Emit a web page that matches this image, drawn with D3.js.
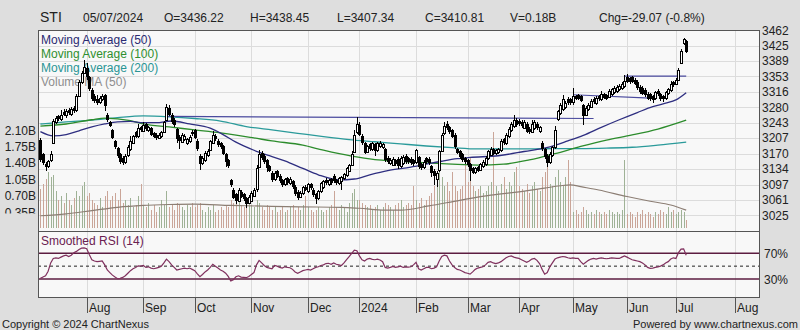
<!DOCTYPE html>
<html>
<head>
<meta charset="utf-8">
<script src="https://cdn.jsdelivr.net/npm/d3@7/dist/d3.min.js"></script>
<style>
  html, body { margin: 0; padding: 0; background: #dedede; }
  svg { display: block; font-family: "Liberation Sans", Arial, sans-serif; }
</style>
</head>
<body>
<svg id="chart" width="800" height="330"></svg>
<script>
// ---- STI daily prices, 6 Jul 2023 .. 5 Jul 2024 (one entry per trading day) ----
const symbol = "STI";
const lastDate = "05/07/2024";

const monthLabels = ["Aug", "Sep", "Oct", "Nov", "Dec", "2024", "Feb", "Mar", "Apr", "May", "Jun", "Jul", "Aug"];
const monthStart  = [18, 40, 60, 82, 104, 124, 146, 166, 186, 207, 228, 247, 270];

const priceTicks  = [3025, 3061, 3097, 3134, 3170, 3207, 3243, 3280, 3316, 3353, 3389, 3425, 3462];
const volumeTicks = [0.35, 0.70, 1.05, 1.40, 1.75, 2.10];
const rsiBands    = [70, 30];
const rsiMid      = 50;

const opens = [
  3203,3168,3146,3140,3155,3196,3245,3258,3252,3268,
  3260,3274,3263,3278,3272,3308,3338,3362,3372,3350,
  3320,3305,3300,3292,3298,3308,3262,3245,3225,3200,
  3183,3168,3160,3150,3165,3180,3195,3220,3212,3232,
  3225,3240,3225,3230,3218,3215,3208,3210,3222,3250,
  3278,3262,3250,3228,3210,3198,3205,3195,3200,3222,
  3226,3200,3165,3148,3155,3165,3178,3195,3212,3200,
  3195,3188,3168,3155,3108,3085,3075,3060,3080,3075,
  3065,3055,3060,3072,3085,3140,3172,3165,3155,3140,
  3125,3110,3128,3118,3108,3098,3112,3100,3105,3092,
  3080,3068,3075,3092,3082,3098,3085,3075,3065,3080,
  3090,3108,3098,3110,3118,3108,3100,3105,3112,3118,
  3130,3145,3175,3220,3238,3212,3195,3175,3192,3180,
  3192,3178,3188,3185,3180,3160,3148,3145,3155,3158,
  3140,3148,3165,3160,3158,3155,3150,3162,3145,3138,
  3160,3158,3140,3130,3110,3130,3178,3218,3240,3232,
  3225,3215,3180,3175,3168,3160,3155,3145,3135,3125,
  3138,3132,3140,3145,3158,3168,3180,3170,3172,3178,
  3205,3195,3212,3225,3235,3250,3248,3245,3232,3240,
  3228,3222,3230,3240,3222,3195,3180,3165,3150,3165,
  3185,3250,3265,3275,3280,3300,3298,3290,3305,3308,
  3305,3285,3262,3275,3282,3300,3290,3305,3298,3310,
  3308,3305,3310,3315,3318,3322,3325,3330,3352,3348,
  3350,3345,3340,3328,3325,3320,3312,3310,3305,3300,
  3318,3310,3305,3300,3312,3320,3338,3335,3345,3385,
  3430,3436.22
];
const highs = [
  3208,3172,3150,3156,3175,3252,3260,3262,3272,3275,
  3276,3278,3280,3282,3310,3345,3366,3392,3385,3353,
  3325,3310,3308,3306,3310,3310,3265,3248,3228,3203,
  3186,3172,3165,3168,3190,3212,3215,3224,3240,3236,
  3244,3243,3236,3234,3222,3218,3218,3224,3248,3287,
  3284,3266,3254,3231,3214,3218,3216,3208,3213,3226,
  3229,3205,3168,3164,3176,3180,3203,3223,3216,3204,
  3198,3191,3171,3158,3110,3088,3078,3089,3084,3078,
  3068,3072,3082,3088,3142,3178,3176,3168,3158,3143,
  3128,3128,3131,3121,3111,3113,3115,3114,3108,3095,
  3083,3081,3094,3096,3101,3101,3088,3078,3085,3103,
  3108,3112,3111,3113,3121,3111,3115,3118,3125,3138,
  3146,3175,3225,3256,3245,3216,3198,3191,3196,3198,
  3195,3198,3200,3196,3184,3164,3159,3162,3158,3161,
  3164,3166,3168,3163,3161,3158,3182,3165,3148,3154,
  3163,3161,3143,3133,3128,3178,3218,3245,3247,3236,
  3228,3218,3184,3178,3171,3163,3158,3148,3138,3139,
  3141,3149,3154,3164,3179,3186,3184,3182,3184,3204,
  3208,3219,3232,3244,3261,3254,3252,3249,3249,3244,
  3232,3250,3249,3244,3236,3199,3184,3168,3174,3189,
  3235,3274,3289,3308,3294,3304,3302,3325,3309,3312,
  3309,3288,3282,3289,3299,3304,3306,3309,3318,3314,
  3312,3322,3326,3329,3332,3334,3339,3356,3357,3352,
  3354,3349,3344,3332,3329,3324,3316,3314,3309,3319,
  3322,3314,3309,3319,3326,3342,3342,3349,3372,3418,
  3442,3438.45
];
const lows = [
  3150,3142,3130,3136,3150,3192,3240,3246,3248,3258,
  3255,3262,3260,3266,3268,3304,3334,3358,3345,3318,
  3295,3290,3285,3288,3294,3270,3245,3232,3204,3180,
  3160,3146,3143,3146,3162,3176,3192,3206,3208,3220,
  3222,3224,3220,3212,3206,3203,3204,3207,3220,3246,
  3258,3241,3234,3195,3180,3194,3200,3190,3196,3212,
  3204,3175,3132,3144,3150,3162,3175,3192,3200,3186,
  3180,3166,3138,3136,3090,3062,3050,3056,3064,3058,
  3042,3050,3056,3068,3080,3136,3156,3146,3127,3126,
  3103,3106,3112,3101,3091,3094,3096,3096,3086,3071,
  3060,3064,3072,3081,3078,3084,3068,3052,3061,3076,
  3086,3096,3094,3096,3101,3096,3096,3085,3108,3114,
  3126,3141,3171,3216,3211,3191,3168,3171,3176,3176,
  3165,3174,3184,3181,3151,3146,3144,3141,3141,3133,
  3136,3144,3146,3146,3144,3141,3146,3134,3131,3134,
  3146,3144,3115,3095,3092,3126,3174,3214,3226,3216,
  3206,3181,3168,3158,3151,3146,3138,3105,3121,3121,
  3126,3128,3136,3141,3154,3164,3166,3166,3168,3174,
  3191,3191,3208,3221,3231,3234,3236,3231,3228,3218,
  3216,3218,3226,3226,3218,3176,3158,3138,3146,3161,
  3181,3246,3261,3271,3276,3286,3286,3286,3296,3296,
  3291,3238,3258,3271,3278,3288,3286,3294,3294,3298,
  3296,3301,3306,3311,3314,3318,3321,3326,3336,3334,
  3336,3331,3321,3311,3308,3304,3296,3294,3290,3296,
  3306,3294,3292,3296,3308,3316,3328,3331,3341,3381,
  3426,3407.34
];
const closes = [
  3155,3148,3138,3152,3170,3248,3255,3252,3262,3262,
  3270,3265,3275,3270,3305,3340,3360,3375,3352,3322,
  3300,3295,3290,3302,3306,3282,3250,3236,3208,3185,
  3165,3150,3148,3165,3185,3200,3212,3210,3230,3225,
  3238,3228,3232,3215,3210,3207,3214,3220,3245,3280,
  3262,3245,3238,3205,3200,3215,3212,3205,3210,3216,
  3208,3180,3145,3160,3172,3175,3200,3215,3205,3190,
  3185,3170,3150,3140,3095,3065,3058,3085,3068,3062,
  3052,3068,3078,3085,3135,3170,3160,3150,3135,3130,
  3108,3125,3115,3105,3095,3110,3100,3110,3090,3075,
  3065,3078,3090,3085,3098,3088,3072,3062,3082,3100,
  3105,3100,3108,3100,3105,3100,3112,3115,3122,3135,
  3143,3170,3215,3240,3215,3195,3172,3188,3180,3195,
  3175,3195,3196,3192,3155,3150,3155,3158,3145,3140,
  3160,3162,3150,3150,3148,3145,3178,3138,3135,3150,
  3150,3148,3125,3118,3125,3175,3215,3235,3230,3220,
  3210,3185,3172,3162,3155,3150,3142,3130,3125,3135,
  3130,3145,3150,3160,3175,3182,3170,3178,3180,3200,
  3195,3215,3228,3240,3250,3238,3240,3235,3245,3222,
  3220,3240,3245,3230,3232,3180,3162,3148,3170,3185,
  3225,3270,3285,3298,3290,3290,3290,3305,3300,3300,
  3295,3260,3278,3285,3295,3292,3302,3298,3310,3302,
  3300,3318,3322,3325,3328,3330,3335,3342,3340,3338,
  3340,3335,3325,3315,3312,3308,3300,3298,3296,3315,
  3310,3300,3298,3315,3322,3335,3332.8,3345,3368,3413,
  3439.88,3410.81
];

// daily volume, billions of units
const volumes = [
  0.85,0.95,1.05,1.2,1.1,1.15,0.8,0.6,0.7,0.55,0.75,0.6,0.5,0.65,0.8,0.7,0.9,1.0,
  0.7,0.75,0.6,0.55,0.5,0.65,0.45,0.7,0.8,0.6,0.7,0.75,0.6,0.85,0.55,0.6,0.5,0.65,0.45,0.5,0.7,0.95,
  0.5,0.45,0.55,0.4,0.5,0.35,0.45,0.6,0.5,0.8,0.45,0.5,0.4,0.55,0.5,0.45,0.4,0.5,0.45,0.55,
  0.45,0.5,0.55,0.4,0.35,0.45,0.4,0.5,0.35,0.4,0.45,0.4,0.5,0.45,0.6,0.55,0.65,0.7,0.5,0.45,0.5,0.55,
  0.5,0.45,0.6,0.55,0.45,0.4,0.5,0.45,0.4,0.45,0.35,0.4,0.45,0.35,0.4,0.45,0.5,0.4,0.45,0.4,0.5,0.7,
  0.45,0.4,0.35,0.4,0.45,0.4,0.35,0.4,0.45,0.5,0.8,0.45,0.4,0.5,0.45,0.35,0.55,0.75,0.85,0.6,
  0.6,0.55,0.5,0.45,0.5,0.4,0.45,0.5,0.4,0.45,0.55,0.5,0.45,0.4,0.5,0.55,0.6,0.45,0.5,0.55,0.5,0.9,
  0.6,0.55,0.65,0.5,0.6,0.7,0.75,0.9,1.0,1.3,1.1,0.9,1.0,0.8,1.2,0.9,0.8,0.85,0.9,1.4,
  1.0,1.5,0.9,0.8,0.85,0.9,0.75,0.8,0.9,1.0,2.05,0.9,0.8,0.95,1.1,0.85,1.0,0.9,1.2,1.3,
  0.9,0.85,0.8,0.95,0.75,0.9,1.0,0.85,0.8,1.1,1.2,1.3,0.95,0.9,1.1,1.25,1.0,0.9,1.1,1.45,1.0,
  0.35,0.4,0.3,0.35,0.45,0.4,0.3,0.35,0.3,0.4,0.35,0.3,0.35,0.3,0.4,0.35,0.3,0.35,0.3,0.4,1.45,
  0.3,0.35,0.3,0.25,0.35,0.3,0.4,0.3,0.35,0.3,0.25,0.35,0.3,0.4,0.35,0.3,0.45,0.35,0.4,
  0.3,0.35,0.4,0.35,0.18
];

// moving averages as [day index, value]
const ma50 = [[0,3222],[5,3212],[10,3215],[15,3224],[20,3233],[25,3240],[30,3245],[35,3246],[40,3243],[45,3243],
  [51,3247],[58,3240],[66,3230],[71,3215],[76,3197],[83,3178],[89,3165],[95,3153],[102,3135],[108,3120],
  [116,3108],[122,3110],[128,3120],[135,3130],[144,3138],[150,3145],[156,3152],[162,3158],[167,3161],[178,3165],
  [188,3175],[198,3186],[205,3200],[211,3213],[218,3232],[225,3250],[232,3267],[238,3281],[243,3289],[247,3297],[251,3314]];
const ma100 = [[0,3235],[10,3240],[20,3250],[25,3254],[35,3248],[40,3240],[50,3233],[60,3226],[70,3219],[83,3207],
  [90,3200],[102,3190],[110,3178],[121,3164],[130,3156],[140,3152],[150,3148],[160,3145],[170,3143],[180,3145],
  [190,3155],[200,3170],[210,3187],[220,3202],[230,3214],[240,3228],[251,3249]];
const ma200 = [[0,3240],[10,3245],[20,3249],[30,3255],[40,3259],[50,3257],[60,3253],[70,3247],[80,3234],[90,3226],
  [100,3218],[110,3210],[120,3203],[130,3198],[140,3193],[150,3188],[160,3184],[170,3181],[180,3181],[190,3181],
  [200,3182],[210,3182],[220,3183],[230,3185],[240,3190],[251,3197]];
const volumeMA50 = [[0,0.27],[10,0.31],[20,0.38],[30,0.45],[40,0.49],[50,0.51],[60,0.52],[74,0.49],[90,0.47],[101,0.46],
  [117,0.45],[124,0.43],[134,0.39],[140,0.39],[151,0.48],[163,0.6],[175,0.71],[186,0.78],[196,0.86],[202,0.91],
  [206,0.93],[210,0.89],[217,0.82],[228,0.68],[237,0.58],[245,0.5],[251,0.39]];

// smoothed RSI (14), one value per day
const rsi14 = [
  31,33,35,42,55,62,63,62,64,66,
  67,65,67,71,73,76,78,78.5,77,68,
  60,58,57,57.5,58,52,44,40,36,33,
  30.5,31,32.5,35,39,43,46,48,50.5,50,
  51,48,49,47,46,47,48,50,55,61,
  57,52,48,44,45,46,47,46,47,45,
  43,38,33.5,37,41,44,48,53,50,47,
  44,42,39,34,27,29,33.5,35,33,32.5,
  32,34,37,40,52,59,55,51,48,47,
  46,51,50,48,47,49,48,47.5,45,41,
  39,41,43,44,45,44,46,48,49,51,
  52,54,54.5,53,55,53,52,51,55,60,
  65,70,75,74,66,60,58,61,62,60.5,
  60,61,59.5,57,48,47,48,49.5,48,49,
  50,48,49,48.5,49,52,56,46,44,46,
  48,48,46,47,49,58,65,67,66,58,
  52,48,45,44,42,40,39,37.5,41,45,
  47,48,49,52,56,57,55,54,55,57,
  60,63,65,66,64,63,62,60,58,56,
  58,61,62,59,54,45,37.5,40,49,55,
  61,63,64,65,64.5,63,62,63,62,62,
  57,53,56,59,61,62,61,62,63,62,
  61.5,62,63,62.5,62,62,64,66,64,62,
  60,59,58,57,55,52,48,46.5,47,48,
  49,50,52,55,57,61,63,62,71,76.5,
  77,67
];

// drawn trend lines: [[day, price], [day, price]]
const trendLines = [
  [[49, 3258], [215, 3253]],
  [[207, 3309], [237, 3301]],
  [[227, 3353], [251, 3353]]
];

// ---------------- layout ----------------
const L = 38, R = 759, T = 30, MID = 231, B = 297;
const svg = d3.select("#chart");

const x  = d3.scaleLinear().domain([0, 251]).range([40.4, 686.2]);
const y  = d3.scaleLinear().domain([3025, 3462]).range([215, 30]);
const yv = d3.scaleLinear().domain([0, 2.1]).range([228.4, 130]);
const yr = d3.scaleLinear().domain([30, 70]).range([279, 253.3]);

const px = i => Math.round(x(i)) + 0.5;

// panel backgrounds
svg.append("rect").attr("x", L).attr("y", T).attr("width", R - L).attr("height", B - T).attr("fill", "#f8f8f8");

// grid
const grid = svg.append("g").attr("stroke", "#dcdcdc").attr("stroke-width", 1).attr("shape-rendering", "crispEdges");
grid.selectAll("line.h").data(priceTicks).join("line")
  .attr("x1", L).attr("x2", R)
  .attr("y1", d => Math.round(y(d)) + 0.5).attr("y2", d => Math.round(y(d)) + 0.5);
grid.selectAll("line.v").data(monthStart).join("line")
  .attr("y1", T).attr("y2", B)
  .attr("x1", d => px(d)).attr("x2", d => px(d));

// volume bars
const upColor = "#9fb296", downColor = "#caa598";
svg.append("g").attr("shape-rendering", "crispEdges").selectAll("line").data(volumes).join("line")
  .attr("x1", (d, i) => px(i)).attr("x2", (d, i) => px(i))
  .attr("y1", yv(0)).attr("y2", d => yv(d))
  .attr("stroke", (d, i) => closes[i] >= opens[i] ? upColor : downColor)
  .attr("stroke-width", 1);

// volume MA
svg.append("path").datum(volumeMA50)
  .attr("fill", "none").attr("stroke", "#8c7e74").attr("stroke-width", 1.2)
  .attr("d", d3.line().x(d => x(d[0])).y(d => yv(d[1])).curve(d3.curveMonotoneX));

// legend
const legend = [
  ["Moving Average (50)", "#2a2a72"],
  ["Moving Average (100)", "#2f8f2f"],
  ["Moving Average (200)", "#2a9595"],
  ["Volume MA (50)", "#8e8e8e"]
];
svg.append("g").selectAll("text").data(legend).join("text")
  .attr("x", 41).attr("y", (d, i) => 44 + i * 14)
  .attr("font-size", 12).attr("fill", d => d[1]).text(d => d[0]);

// price moving averages
const maLine = d3.line().x(d => x(d[0])).y(d => y(d[1])).curve(d3.curveMonotoneX);
[[ma200, "#2a9a9a"], [ma100, "#2c8c2c"], [ma50, "#2e2e80"]].forEach(([data, col]) => {
  svg.append("path").datum(data).attr("fill", "none").attr("stroke", col).attr("stroke-width", 1.3).attr("d", maLine);
});

// trend lines
svg.append("g").selectAll("line").data(trendLines).join("line")
  .attr("x1", d => x(d[0][0])).attr("y1", d => y(d[0][1]))
  .attr("x2", d => x(d[1][0])).attr("y2", d => y(d[1][1]))
  .attr("stroke", "#4a4a9e").attr("stroke-width", 1.2);

// candlesticks
const candles = svg.append("g").attr("shape-rendering", "crispEdges");
const idx = d3.range(closes.length);
candles.selectAll("line").data(idx).join("line")
  .attr("x1", px).attr("x2", px)
  .attr("y1", i => y(highs[i])).attr("y2", i => y(lows[i]))
  .attr("stroke", "#000").attr("stroke-width", 1);
candles.selectAll("rect").data(idx).join("rect")
  .each(function (i) {
    const up = closes[i] >= opens[i];
    const top = y(Math.max(opens[i], closes[i]));
    const bot = y(Math.min(opens[i], closes[i]));
    const sel = d3.select(this);
    if (up) {
      sel.attr("x", px(i) - 1).attr("width", 2)
        .attr("y", Math.round(top) + 0.5).attr("height", Math.max(1, Math.round(bot - top)))
        .attr("fill", "#fff").attr("stroke", "#000").attr("stroke-width", 1);
    } else {
      sel.attr("x", px(i) - 1.5).attr("width", 3)
        .attr("y", top).attr("height", Math.max(1, bot - top))
        .attr("fill", "#000");
    }
  });

// RSI panel
svg.append("text").attr("x", 41).attr("y", 245).attr("font-size", 12).attr("fill", "#6a2050").text("Smoothed RSI (14)");
svg.append("g").selectAll("line").data(rsiBands).join("line")
  .attr("x1", L).attr("x2", R).attr("y1", d => yr(d)).attr("y2", d => yr(d))
  .attr("stroke", "#5c1c40").attr("stroke-width", 1.5);
svg.append("line").attr("x1", L).attr("x2", R).attr("y1", yr(rsiMid)).attr("y2", yr(rsiMid))
  .attr("stroke", "#222").attr("stroke-width", 1).attr("stroke-dasharray", "3,3");
svg.append("path").datum(rsi14)
  .attr("fill", "none").attr("stroke", "#80305e").attr("stroke-width", 1.2)
  .attr("d", d3.line().x((d, i) => x(i)).y(d => yr(d)));

// frame
const frame = svg.append("g").attr("fill", "none").attr("stroke", "#555").attr("shape-rendering", "crispEdges");
frame.append("rect").attr("x", L + 0.5).attr("y", T + 0.5).attr("width", R - L).attr("height", B - T);
frame.append("line").attr("x1", L).attr("x2", R).attr("y1", MID + 0.5).attr("y2", MID + 0.5);

// right price axis labels
svg.append("g").selectAll("text").data(priceTicks).join("text")
  .attr("x", 762).attr("y", d => y(d) + 4.5).attr("font-size", 12).attr("fill", "#222").text(d => d);

// left volume labels (the lowest one is cut off by the panel floor)
svg.append("clipPath").attr("id", "volclip").append("rect").attr("x", 0).attr("y", 100).attr("width", L).attr("height", 113.5);
svg.append("g").attr("clip-path", "url(#volclip)").selectAll("text").data(volumeTicks).join("text")
  .attr("x", 36).attr("y", d => yv(d) + 4.5).attr("text-anchor", "end").attr("font-size", 12).attr("fill", "#222")
  .text(d => d.toFixed(2) + "B");

// RSI labels
svg.append("g").selectAll("text").data(rsiBands).join("text")
  .attr("x", 764).attr("y", d => yr(d) + 4.5).attr("font-size", 12).attr("fill", "#222").text(d => d + "%");

// month axis
const mAxis = svg.append("g");
mAxis.selectAll("line").data(monthStart).join("line")
  .attr("x1", d => px(d)).attr("x2", d => px(d)).attr("y1", B).attr("y2", 313)
  .attr("stroke", "#555").attr("shape-rendering", "crispEdges");
mAxis.selectAll("text").data(monthLabels).join("text")
  .attr("x", (d, i) => px(monthStart[i]) + 1.5).attr("y", 312)
  .attr("font-size", 12).attr("fill", "#222").text(d => d);

// header
const n = closes.length - 1;
const chg = closes[n] - closes[n - 1];
const pct = chg / closes[n - 1] * 100;
const header = [
  [40, symbol, 14],
  [83, lastDate, 12],
  [164, "O=" + opens[n].toFixed(2), 12],
  [250, "H=" + highs[n].toFixed(2), 12],
  [337, "L=" + lows[n].toFixed(2), 12],
  [425, "C=" + closes[n].toFixed(2), 12],
  [510, "V=" + volumes[n].toFixed(2) + "B", 12],
  [599, "Chg=" + chg.toFixed(2) + " (" + pct.toFixed(1) + "%)", 12]
];
svg.append("g").selectAll("text").data(header).join("text")
  .attr("x", d => d[0]).attr("y", 22).attr("font-size", d => d[2]).attr("fill", "#222").text(d => d[1]);

// footer
svg.append("text").attr("x", 2).attr("y", 328).attr("font-size", 11).attr("fill", "#222").text("Copyright \u00A9 2024 ChartNexus");
svg.append("text").attr("x", 798).attr("y", 328).attr("text-anchor", "end").attr("font-size", 11).attr("fill", "#222").text("Powered by www.chartnexus.com");
</script>
</body>
</html>
